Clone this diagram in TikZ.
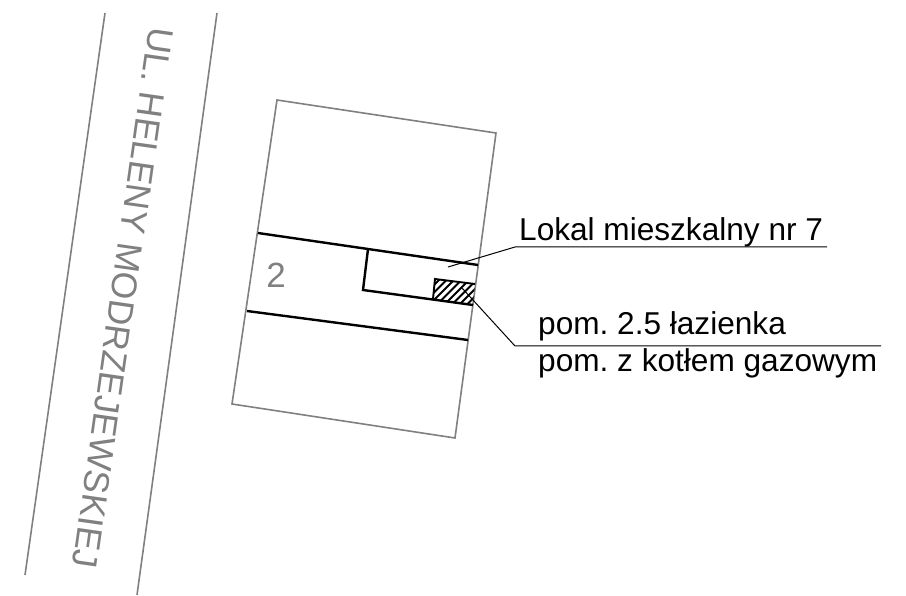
\documentclass[tikz,border=0pt]{standalone}
\usepackage{fontspec}
\setmainfont{Liberation Sans}
\definecolor{gr}{HTML}{808080}
\tikzset{
  thin gray/.style={draw=gr,line width=1.6pt},
  wall/.style={draw=black,line width=2.4pt},
  leader/.style={draw=black,line width=1pt},
  hatchline/.style={draw=black,line width=1.9pt},
  label/.style={font=\fontsize{31.6}{36}\selectfont,anchor=base west,inner sep=0pt,text=black},
  graytext/.style={font=\fontsize{35.6}{40}\selectfont,inner sep=0pt,text=gr}
}
\frenchspacing
\begin{document}
\begin{tikzpicture}[x=1pt,y=-1pt]
\useasboundingbox (0,0) rectangle (906,596);
% street
\draw[thin gray] (105,13) -- (25,575);
\draw[thin gray] (217,13) -- (137,595);
\node[graytext,rotate=-98.1] (street) at (123,298) {UL. HELENY MODRZEJEWSKIEJ};
% building
\draw[thin gray,line join=miter] (277,100) -- (496,133) -- (455,438) -- (232,404) -- cycle;
\draw[wall] (258,233) -- (478,265);
\draw[wall] (247,311) -- (468,340);
\begin{scope}
\clip (435,279) -- (475,284) -- (473,305) -- (433,299) -- cycle;
\foreach \h in {394,401.5,...,472}{
  \draw[hatchline] (\h,310) -- (\h+36,274);
}
\end{scope}
\draw[hatchline] (433,299) -- (435,279) -- (475,284);
\draw[wall,line join=miter] (368,249) -- (363,290) -- (473,305);
\node[graytext,font=\fontsize{35}{40}\selectfont] (two) at (276,275.5) {2};
% labels
\node[label] (lokal) at (519,241) {Lokal mieszkalny nr 7};
\node[label] (pom) at (538,335) {pom. 2.5 łazienka};
\node[label] (kot) at (538,372) {pom. z kotłem gazowym};
\coordinate (a1) at (448,267);
\coordinate (a2) at (515,247);
\coordinate (a3) at (827,247);
\coordinate (b1) at (462,288);
\coordinate (b2) at (515,346);
\coordinate (b3) at (881,346);
\draw[leader] (a1) -- (a2) -- (a3);
\draw[leader] (b1) -- (b2) -- (b3);
\end{tikzpicture}
\end{document}
